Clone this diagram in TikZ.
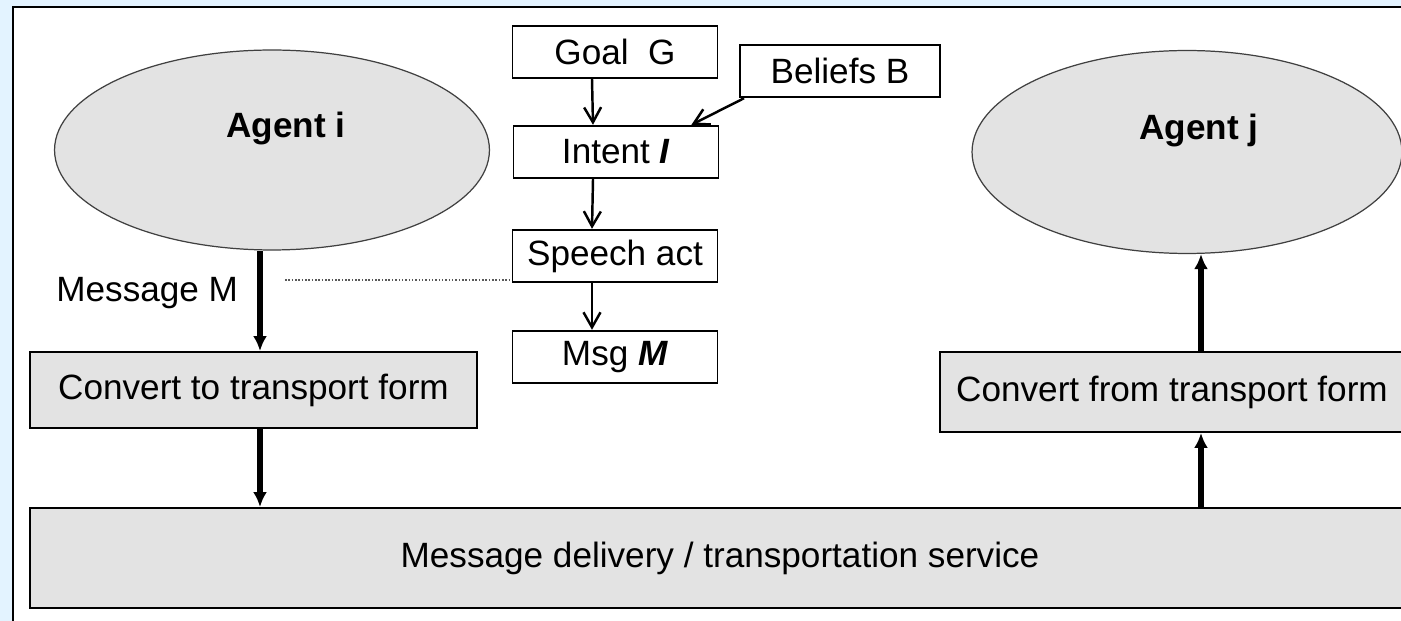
\documentclass[tikz,border=0pt]{standalone}
\usepackage{fontspec}
\setmainfont{Liberation Sans}
\usepackage{tikz}
\usetikzlibrary{arrows.meta,shapes}
\definecolor{boxgray}{HTML}{E3E3E3}
\definecolor{bgblue}{HTML}{E3F3FF}
\tikzstyle{whitebox}=[rectangle,draw,fill=white,line width=1.1pt,minimum width=4.1cm,minimum height=1.05cm,inner sep=0pt,font=\fontsize{20}{24}\selectfont]
\tikzstyle{graybox}=[rectangle,draw,fill=boxgray,line width=1.1pt,inner sep=0pt,font=\fontsize{20}{24}\selectfont]
\tikzstyle{agent}=[ellipse,draw=black!75,fill=boxgray,line width=0.7pt,inner sep=0pt,font=\fontsize{20}{24}\selectfont\bfseries]
\tikzstyle{edge} = [draw,line width=1.4pt,-{Straight Barb[length=0.3cm,width=0.34cm]}]
\tikzstyle{thickedge} = [draw,line width=3pt,-{Latex[length=0.3cm,width=0.28cm]}]
\tikzstyle{weight} = [font=\fontsize{20}{24}\selectfont]

\begin{document}
\begin{tikzpicture}[x=0.02cm,y=-0.02cm]

\useasboundingbox (0,0) rectangle (1401,621);
\fill[bgblue] (0,0) rectangle (1401,621);
\draw[fill=white,line width=1.2pt] (13,7) rectangle (1430,650);

% the two agents
\node[agent,minimum width=8.7cm,minimum height=4cm] (agenti) at (272,150) {\raisebox{0.24cm}[0pt][0pt]{\hspace{0.56cm}Agent i}};
\node[agent,minimum width=8.6cm,minimum height=4.06cm] (agentj) at (1187,152) {\raisebox{0.24cm}[0pt][0pt]{\hspace{0.48cm}Agent j}};

% message generation
\foreach \pos/ \name/ \txt in {{(615,52)/goal/{Goal\ \ G}}, {(616,152)/intent/{Intent \textbf{\textit{I}}}}, {(615,256)/speech/{Speech act}}, {(615,357)/msg/{Msg \textbf{\textit{M}}}}}
    \node[whitebox] (\name) at \pos {\txt};
\node[whitebox,minimum width=4cm] (beliefs) at (840,71) {Beliefs B};

\foreach \source/ \dest in {goal/intent, intent/speech, speech/msg}
    \path[edge] ([xshift=-0.46cm]\source.south) -- ([xshift=-0.46cm]\dest.north);
\path[edge] ([xshift=0.1cm]beliefs.south west) -- ([xshift=-0.56cm]intent.north east);

% transport
\node[graybox,minimum width=8.94cm,minimum height=1.52cm] (cto) at (253.5,390) {Convert to transport form};
\node[graybox,minimum width=9.3cm,minimum height=1.6cm] (cfrom) at (1172,392) {Convert from transport form};
\node[graybox,minimum width=27.6cm,minimum height=2cm] (deliv) at (720,558) {Message delivery / transportation service};

\path[thickedge] ([xshift=0.13cm]cto.north |- agenti.south) -- node[weight,left,pos=0.42,xshift=-0.27cm] {Message M} ([xshift=0.13cm]cto.north);
\path[thickedge] ([xshift=0.13cm]cto.south) -- ([xshift=0.13cm]cto.south |- deliv.north);
\path[thickedge] ([xshift=0.58cm]cfrom.south |- deliv.north) -- ([xshift=0.58cm]cfrom.south);
\path[thickedge] ([xshift=0.58cm]cfrom.north) -- ([xshift=0.58cm]cfrom.north |- agentj.south);

\coordinate (dotstart) at (285,280);
\draw[densely dotted,line width=0.9pt,black!65] (dotstart) -- (dotstart -| speech.west);

\end{tikzpicture}
\end{document}
